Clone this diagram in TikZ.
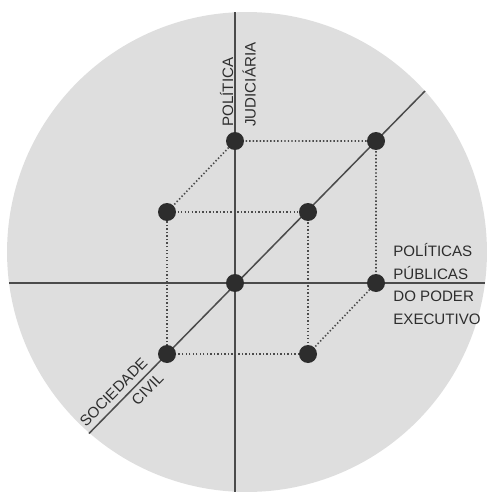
\documentclass[tikz,border=0pt]{standalone}
\usepackage{fontspec}
\setmainfont{Liberation Sans}
\usetikzlibrary{calc,positioning}

\definecolor{discgray}{RGB}{222,222,222}
\definecolor{axisgray}{RGB}{75,75,75}
\definecolor{dotgray}{RGB}{45,45,45}

\begin{document}
\begin{tikzpicture}[
            x=0.02cm,y=-0.02cm,
            axis/.style={axisgray,line width=0.85pt},
            edge/.style={axisgray,line width=0.9pt,dash pattern=on 0.8pt off 1.2pt},
            vertex/.style={circle,fill=dotgray,inner sep=0pt,minimum size=0.36cm},
            lbl/.style={inner sep=0pt,align=left,text=dotgray,font=\fontsize{8.6}{12.8}\selectfont}
        ]
            \useasboundingbox (0,0) rectangle (491,497);
            \fill[discgray] (247,252) circle[radius=4.8cm];

            % axes
            \coordinate (vtop) at (235,12);
            \coordinate (vbot) at (235,492);
            \coordinate (hleft) at (9,283);
            \coordinate (hright) at (485,283);
            \coordinate (dlow) at (89,433.5);
            \coordinate (dhigh) at (425,91);

            \draw[axis] (vtop) -- (vbot);
            \draw[axis] (hleft) -- (hright);
            \draw[axis] (dlow) -- (dhigh);

            % cube corners
            \coordinate (o) at (235,283);
            \coordinate (r) at (376,283);
            \coordinate (t) at (235,141);
            \coordinate (tr) at (376,141);
            \coordinate (fl) at (167,212);
            \coordinate (fr) at (308,212);
            \coordinate (bl) at (167,354);
            \coordinate (br) at (308,354);

            \draw[edge] (fl) -- (fr) -- (br) -- (bl) -- cycle;
            \draw[edge] (fl) -- (t) -- (tr) -- (r);
            \draw[edge] (t) -- (o);
            \draw[edge] (br) -- (r);

            \foreach \c in {o,r,t,tr,fl,fr,bl,br}
                \node[vertex] (dot-\c) at (\c) {};

            % labels
            \node[lbl,rotate=90,anchor=west] (judic) at (238,127) {POLÍTICA\\JUDICIÁRIA};
            \node[lbl,anchor=west] (exec) at (393,284) {POLÍTICAS\\PÚBLICAS\\DO PODER\\EXECUTIVO};
            \node[lbl,rotate=45.5,anchor=east,align=right] (civil) at (153,368) {SOCIEDADE\\CIVIL};
        \end{tikzpicture}
\end{document}
